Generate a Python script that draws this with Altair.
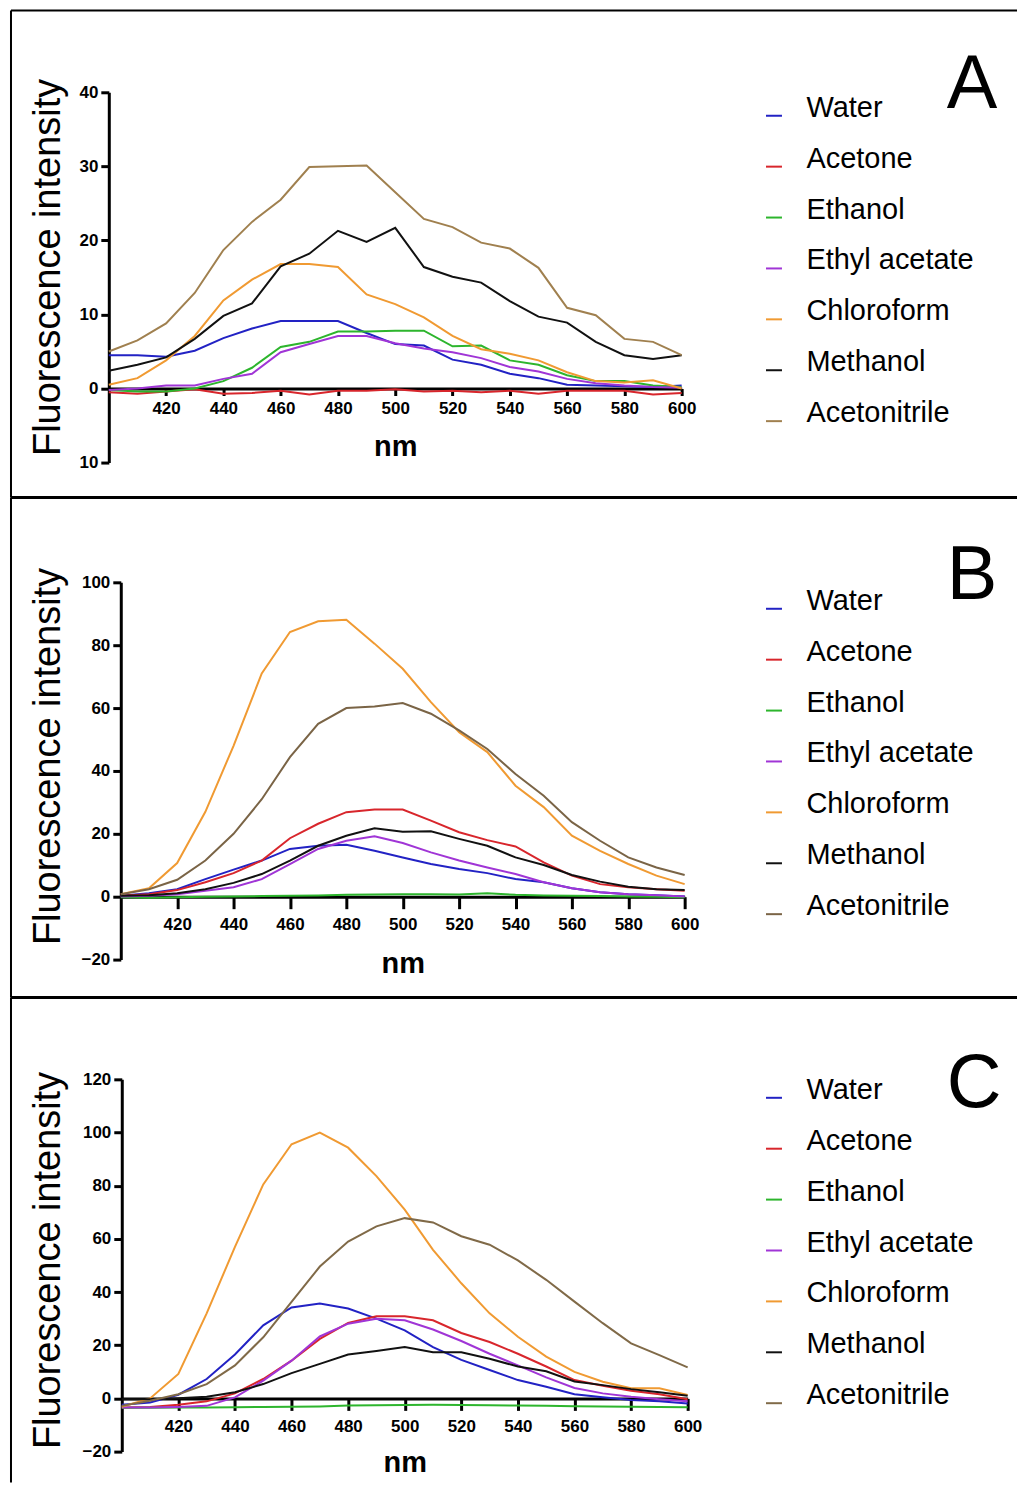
import altair as alt
import pandas as pd

WL = list(range(400, 601, 10))
SOLVENTS = ["Water", "Acetone", "Ethanol", "Ethyl acetate", "Chloroform", "Methanol", "Acetonitrile"]
COLORS = ["#2222c4", "#d8262c", "#2db52d", "#a035d6", "#f09a32", "#111111"]

# Panel A
A_water = [4.5, 4.5, 4.3, 5.1, 6.8, 8.1, 9.1, 9.1, 9.1, 7.5, 6.0, 5.8, 3.9, 3.2, 2.0, 1.4, 0.5, 0.4, 0.3, 0.2, 0.4]
A_acetone = [-0.5, -0.7, -0.4, -0.1, -0.7, -0.6, -0.3, -0.8, -0.3, -0.3, -0.1, -0.4, -0.3, -0.5, -0.3, -0.7, -0.3, -0.3, -0.3, -0.8, -0.6]
A_ethanol = [-0.2, -0.4, -0.4, 0.0, 1.0, 2.8, 5.6, 6.3, 7.7, 7.7, 7.8, 7.8, 5.7, 5.8, 3.8, 3.2, 1.8, 1.0, 1.0, 0.4, 0.2]
A_ethyl = [-0.2, 0.0, 0.4, 0.4, 1.3, 2.0, 4.9, 6.0, 7.1, 7.1, 6.1, 5.4, 4.9, 4.1, 2.9, 2.3, 1.3, 0.7, 0.4, 0.2, 0.1]
A_chloro = [0.5, 1.4, 3.8, 7.1, 11.9, 14.7, 16.8, 16.8, 16.4, 12.7, 11.4, 9.6, 7.1, 5.3, 4.7, 3.8, 2.2, 1.0, 0.8, 1.1, 0.0]
A_methanol = [2.4, 3.2, 4.2, 6.7, 9.8, 11.5, 16.5, 18.2, 21.3, 19.8, 21.7, 16.4, 15.1, 14.3, 11.8, 9.7, 8.9, 6.3, 4.5, 4.0, 4.5]
A_acetonitrile = [5.0, 6.5, 8.8, 12.9, 18.7, 22.5, 25.5, 29.9, 30.0, 30.1, 26.5, 22.9, 21.8, 19.7, 18.9, 16.3, 10.9, 9.9, 6.7, 6.3, 4.5]

# Panel B
B_water = [0.3, 1.1, 2.4, 5.6, 8.6, 11.5, 15.2, 16.2, 16.5, 14.6, 12.5, 10.4, 8.8, 7.5, 5.6, 4.6, 2.7, 1.4, 0.8, 0.5, 0.1]
B_acetone = [0.3, 0.8, 2.1, 4.6, 7.5, 11.5, 18.6, 23.2, 26.9, 27.7, 27.7, 24.2, 20.5, 18.0, 16.0, 10.9, 6.7, 4.0, 3.0, 2.4, 1.9]
B_ethanol = [-0.2, -0.3, -0.2, 0.0, 0.1, 0.2, 0.3, 0.4, 0.6, 0.7, 0.8, 0.8, 0.7, 1.1, 0.6, 0.4, 0.3, 0.2, 0.1, 0.0, -0.2]
B_ethyl = [0.1, 0.3, 0.8, 1.9, 3.0, 5.6, 10.4, 15.2, 17.8, 19.2, 17.1, 14.1, 11.5, 9.3, 7.2, 4.6, 2.7, 1.4, 0.8, 0.5, 0.1]
B_chloro = [0.8, 2.7, 10.7, 27.0, 48.0, 71.0, 84.2, 87.6, 88.1, 80.5, 72.5, 61.9, 52.3, 46.0, 35.3, 28.5, 19.4, 14.6, 10.4, 6.7, 4.0]
B_methanol = [0.3, 0.5, 1.1, 2.4, 4.4, 7.2, 11.5, 16.2, 19.4, 21.8, 20.7, 20.8, 18.4, 16.2, 12.5, 10.1, 6.9, 4.8, 3.2, 2.4, 2.1]
B_acetonitrile = [0.8, 2.4, 5.4, 11.5, 20.0, 31.0, 44.4, 55.0, 60.0, 60.5, 61.6, 58.2, 52.9, 47.0, 39.0, 32.1, 23.7, 17.8, 12.5, 9.3, 6.9]

# Panel C
C_water = [-2.4, -1.5, 1.4, 7.3, 16.5, 27.5, 34.2, 35.7, 33.8, 30.0, 25.6, 19.3, 14.5, 10.7, 6.9, 4.4, 1.6, 0.4, -0.6, -1.1, -1.9]
C_acetone = [-3.4, -3.2, -2.4, -1.1, 1.9, 7.3, 14.2, 22.4, 28.4, 30.9, 30.9, 29.4, 24.6, 21.2, 16.8, 12.0, 6.9, 4.8, 2.9, 1.6, -0.3]
C_ethanol = [-3.5, -3.5, -3.4, -3.4, -3.3, -3.2, -3.1, -3.0, -2.7, -2.6, -2.5, -2.4, -2.5, -2.6, -2.7, -2.8, -2.9, -3.0, -3.1, -3.2, -3.3]
C_ethyl = [-3.4, -3.4, -3.2, -2.8, 0.4, 6.7, 14.2, 23.3, 28.1, 30.0, 29.4, 25.9, 21.6, 16.8, 12.4, 7.9, 3.9, 1.9, 0.6, -0.3, -1.1]
C_chloro = [-3.1, 0.0, 9.2, 32.0, 57.0, 80.5, 95.6, 100.0, 94.3, 83.6, 71.0, 55.9, 43.3, 32.0, 23.2, 15.7, 10.0, 6.3, 3.8, 3.8, 1.3]
C_methanol = [-0.3, -0.3, 0.1, 0.6, 2.3, 5.4, 9.5, 13.0, 16.5, 17.8, 19.3, 17.4, 17.4, 14.9, 12.0, 10.2, 6.4, 5.0, 3.5, 2.3, 1.0]
C_acetonitrile = [-2.8, -0.9, 1.6, 5.4, 12.4, 23.0, 36.3, 49.6, 59.0, 64.7, 67.8, 66.2, 61.0, 57.8, 51.9, 44.6, 36.4, 28.3, 20.7, 16.3, 11.7]

X_TICKS = [420, 440, 460, 480, 500, 520, 540, 560, 580, 600]
A_YTICKS = [-10, 0, 10, 20, 30, 40]
B_YTICKS = [-20, 0, 20, 40, 60, 80, 100]
C_YTICKS = [-20, 0, 20, 40, 60, 80, 100, 120]

LABEL_FONT = "'Liberation Sans Narrow', 'Liberation Sans', Arial, sans-serif"
FONT = "'Liberation Sans', Arial, sans-serif"


def long_df(series):
    rows = []
    for name, vals in zip(SOLVENTS, series):
        for w, v in zip(WL, vals):
            rows.append({"wl": w, "val": v, "solvent": name})
    return pd.DataFrame(rows)


one = pd.DataFrame({"k": [0]})


def panel(series, ydom, yticks, width, height, xrange0, yoff, xoff, nm_y, lab_pad,
          tsize, title_x, title_y, letter, lxy, legxy, frame, brown, label_expr):
    df = long_df(series)
    x = alt.X("wl:Q",
              scale=alt.Scale(domain=[400, 600], range=[xrange0, width], nice=False, zero=False),
              axis=alt.Axis(values=X_TICKS, title="nm", offset=xoff, tickSize=tsize,
                            labelPadding=lab_pad, titleY=nm_y, titleBaseline="middle",
                            titleFontSize=29, titleFontWeight="bold", titleFont=FONT,
                            labelFlush=False))
    y = alt.Y("val:Q",
              scale=alt.Scale(domain=ydom, nice=False, zero=False),
              axis=alt.Axis(values=yticks, title="Fluorescence intensity", offset=yoff,
                            tickSize=8, labelPadding=3, titleX=title_x, titleY=title_y,
                            titleAngle=270, titleAlign="center", titleBaseline="middle",
                            titleFontSize=38, titleFontWeight="normal", titleFont=FONT,
                            labelExpr=label_expr, labelFlush=False))
    lines = alt.Chart(df).mark_line(strokeWidth=2, clip=False).encode(
        x=x, y=y,
        color=alt.Color("solvent:N",
                        scale=alt.Scale(domain=SOLVENTS, range=COLORS + [brown]),
                        sort=SOLVENTS,
                        legend=alt.Legend(orient="none", legendX=legxy[0], legendY=legxy[1],
                                          title=None, labelFontSize=29, labelFont=FONT,
                                          labelColor="black", labelLimit=0,
                                          symbolType="M-1,1L1,1", symbolSize=256,
                                          symbolStrokeWidth=2, rowPadding=21,
                                          labelOffset=18, padding=0)),
        order=alt.Order("solvent:N", sort="ascending"),
    )
    layers = [lines]
    for (x1, x2, y1, y2, sw) in frame:
        enc = {"x": alt.value(x1), "y": alt.value(y1)}
        if x2 is not None:
            enc["x2"] = alt.value(x2)
        if y2 is not None:
            enc["y2"] = alt.value(y2)
        layers.append(alt.Chart(one).mark_rule(color="black", strokeWidth=sw).encode(**enc))
    layers.append(alt.Chart(one).mark_text(fontSize=76, font=FONT, color="black",
                                           align="center", baseline="middle").encode(
        x=alt.value(lxy[0]), y=alt.value(lxy[1]), text=alt.value(letter)))
    return alt.layer(*layers).properties(width=width, height=height)


RIGHT = 910
pA = panel([A_water, A_acetone, A_ethanol, A_ethyl, A_chloro, A_methanol, A_acetonitrile],
           [-10, 40], A_YTICKS, 574, 371, 0, 0, -74.2, 58, 5, 7, -60, 175,
           "A", (865, -7), (652, 1),
           [(-98, RIGHT, -82, None, 2), (-98, None, -82, 406, 2), (-98, RIGHT, 406, None, 3)],
           "#a0804f", "datum.value == -10 ? '10' : datum.label")
pB = panel([B_water, B_acetone, B_ethanol, B_ethyl, B_chloro, B_methanol, B_acetonitrile],
           [-20, 100], B_YTICKS, 577, 378, 12, -12, -63, 67, 8, 12, -72, 174,
           "B", (865, -6), (652, 4),
           [(-98, None, -85, 416, 2), (-98, RIGHT, 416, None, 3)],
           "#7a6446", "datum.label")
pC = panel([C_water, C_acetone, C_ethanol, C_ethyl, C_chloro, C_methanol, C_acetonitrile],
           [-20, 120], C_YTICKS, 580, 373, 13, -13, -53.3, 64, 8, 12, -73, 181,
           "C", (867, 5), (652, -4),
           [(-98, None, -82, 404, 2)],
           "#806a48", "datum.label")

chart = alt.vconcat(pA, pB, pC, spacing=120, bounds="flush").resolve_scale(
    color="independent", x="independent", y="independent"
).resolve_legend(color="independent").configure_view(stroke=None).configure_axis(
    domainColor="black", domainWidth=3, tickColor="black", tickWidth=3,
    labelColor="black", labelFont=LABEL_FONT, labelFontSize=17, labelFontWeight="bold",
    titleColor="black", grid=False
).properties(padding={"left": 1, "top": 0, "right": 0, "bottom": 0})

chart.save("out.html", embed_options={"renderer": "svg", "actions": False})
